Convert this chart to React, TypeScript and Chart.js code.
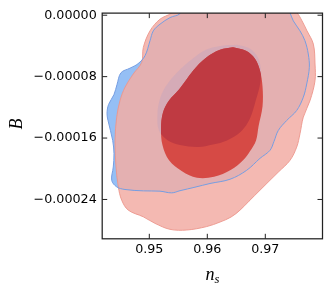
import React, { useEffect, useRef } from 'react';
import { Chart, registerables } from 'chart.js';
Chart.register(...registerables);

const xTicks = [0.95, 0.96, 0.97];
const yTicks = [0, -0.00008, -0.00016, -0.00024];
const xMin = 0.94188;
const xMax = 0.97986;
const yMin = -0.00029123;
const yMax = 0.00000272;

const blueOuterNs = [0.96564, 0.95616, 0.95529, 0.95357, 0.95184, 0.95069, 0.95012, 0.94926, 0.94805, 0.94667, 0.94512, 0.94443, 0.94391, 0.94297, 0.94271, 0.94288, 0.94369, 0.94391, 0.94379, 0.94352, 0.94438, 0.94581, 0.94897, 0.95184, 0.95386, 0.95529, 0.95788, 0.96047, 0.96391, 0.96679, 0.96909, 0.97081, 0.9715, 0.97224, 0.97369, 0.97541, 0.97655, 0.97714, 0.97759, 0.97741, 0.97684, 0.97598, 0.97483, 0.97426, 0.9734, 0.96564];
const blueOuterB = [2.24e-5, 1.6e-5, 0.21e-5, -0.31e-5, -1.17e-5, -2.04e-5, -3.33e-5, -5.28e-5, -6.32e-5, -6.9e-5, -7.49e-5, -9.04e-5, -10.34e-5, -11.64e-5, -12.8e-5, -13.71e-5, -16.31e-5, -18.03e-5, -19.77e-5, -21.5e-5, -22.36e-5, -22.7e-5, -22.88e-5, -22.92e-5, -23.14e-5, -22.86e-5, -22.4e-5, -21.92e-5, -21.37e-5, -20.2e-5, -18.64e-5, -17.6e-5, -16.44e-5, -15.01e-5, -13.71e-5, -12.41e-5, -10.69e-5, -8.95e-5, -6.8e-5, -5.06e-5, -3.33e-5, -2.04e-5, -0.74e-5, 0.3e-5, 1.47e-5, 2.24e-5];

const redOuterNs = [0.96391, 0.95529, 0.95386, 0.95184, 0.95012, 0.94897, 0.94869, 0.94724, 0.94581, 0.94495, 0.94438, 0.94409, 0.94426, 0.94466, 0.94524, 0.94638, 0.94897, 0.95098, 0.95357, 0.95645, 0.9599, 0.96219, 0.96409, 0.96564, 0.96719, 0.96909, 0.97081, 0.97221, 0.97426, 0.97541, 0.97598, 0.97655, 0.97771, 0.97857, 0.97857, 0.97828, 0.97719, 0.97633, 0.97547, 0.9734, 0.96391];
const redOuterB = [2.11e-5, 1.6e-5, 0.3e-5, -0.52e-5, -2.04e-5, -4.2e-5, -6.15e-5, -7.65e-5, -9.39e-5, -11.12e-5, -13.28e-5, -16.31e-5, -19.77e-5, -22.36e-5, -24.09e-5, -25.39e-5, -26.26e-5, -27.11e-5, -27.89e-5, -27.98e-5, -27.53e-5, -26.94e-5, -26.29e-5, -25.39e-5, -24.22e-5, -22.79e-5, -21.5e-5, -20.46e-5, -18.9e-5, -17.18e-5, -15.44e-5, -13.28e-5, -11.12e-5, -8.52e-5, -6.36e-5, -3.76e-5, -2.04e-5, -0.74e-5, 0.3e-5, 1.6e-5, 2.11e-5];

const blueInnerNs = [0.96512, 0.96736, 0.96874, 0.96926, 0.96909, 0.9684, 0.96736, 0.96581, 0.9634, 0.96098, 0.9584, 0.95529, 0.95322, 0.95167, 0.95141, 0.95176, 0.95271, 0.95443, 0.95702, 0.95978, 0.96253, 0.96512];
const blueInnerB = [-3.85e-5, -4.37e-5, -5.54e-5, -7.23e-5, -9.04e-5, -10.99e-5, -13.45e-5, -15.14e-5, -16.31e-5, -16.83e-5, -17.15e-5, -16.89e-5, -16.31e-5, -15.01e-5, -12.93e-5, -11.12e-5, -9.43e-5, -7.74e-5, -5.93e-5, -4.5e-5, -3.98e-5, -3.85e-5];

const redInnerNs = [0.96443, 0.96667, 0.96822, 0.96909, 0.96952, 0.96952, 0.96883, 0.9684, 0.96736, 0.96616, 0.96409, 0.96116, 0.95822, 0.95564, 0.9534, 0.95228, 0.95202, 0.95236, 0.9534, 0.95512, 0.95753, 0.95978, 0.96219, 0.96443];
const redInnerB = [-4.18e-5, -4.63e-5, -5.67e-5, -7.23e-5, -9.3e-5, -11.9e-5, -14.49e-5, -16.31e-5, -17.73e-5, -18.9e-5, -20.13e-5, -21.04e-5, -21.17e-5, -20.33e-5, -18.9e-5, -16.95e-5, -14.75e-5, -12.67e-5, -11.12e-5, -9.69e-5, -7.23e-5, -5.54e-5, -4.5e-5, -4.18e-5];

const pts = (xs: number[], ys: number[]) => xs.map((x, i) => ({ x, y: ys[i] }));

const TENSION = 0.35;

function poly(label: string, xs: number[], ys: number[], order: number, fillColor: string | false, borderColor: string, borderWidth: number) {
  return {
    label,
    data: pts(xs, ys),
    order,
    showLine: true,
    pointRadius: 0,
    pointHoverRadius: 0,
    tension: TENSION,
    fill: fillColor ? 'shape' : false,
    backgroundColor: fillColor || 'transparent',
    borderColor,
    borderWidth,
  };
}

const fmtY = (v: number) => {
  if (Math.abs(v) < 1e-12) return '0.00000';
  return (v < 0 ? '\u2212' : '') + Math.abs(v).toFixed(5);
};

const decor = {
  id: 'decor',
  afterDatasetsDraw(chart: any) {
    const ctx = chart.ctx as CanvasRenderingContext2D;
    const { left, right, top, bottom } = chart.chartArea;
    const redLine = chart.getDatasetMeta(0).dataset;
    const blueLine = chart.getDatasetMeta(1).dataset;
    ctx.save();
    ctx.beginPath();
    ctx.rect(left, top, right - left, bottom - top);
    ctx.clip();
    ctx.beginPath();
    redLine.path(ctx);
    ctx.closePath();
    ctx.clip();
    ctx.beginPath();
    blueLine.path(ctx);
    ctx.closePath();
    ctx.fillStyle = '#bf3a42';
    ctx.fill();
    ctx.restore();

    // frame and inward ticks
    const xs = chart.scales.x;
    const ys = chart.scales.y;
    ctx.save();
    ctx.strokeStyle = '#222';
    ctx.lineWidth = 1;
    const tl = 5;
    for (const t of xTicks) {
      const p = xs.getPixelForValue(t);
      ctx.beginPath();
      ctx.moveTo(p, bottom);
      ctx.lineTo(p, bottom - tl);
      ctx.moveTo(p, top);
      ctx.lineTo(p, top + tl);
      ctx.stroke();
    }
    for (const t of yTicks) {
      const p = ys.getPixelForValue(t);
      ctx.beginPath();
      ctx.moveTo(left, p);
      ctx.lineTo(left + tl, p);
      ctx.moveTo(right, p);
      ctx.lineTo(right - tl, p);
      ctx.stroke();
    }
    ctx.lineWidth = 1.25;
    ctx.strokeRect(left, top, right - left, bottom - top);

    // axis titles
    ctx.fillStyle = '#000';
    ctx.font = 'italic 18px "Liberation Serif"';
    ctx.textAlign = 'center';
    ctx.textBaseline = 'middle';
    ctx.save();
    ctx.translate(17, (top + bottom) / 2 - 2);
    ctx.rotate(-Math.PI / 2);
    ctx.fillText('B', 0, 0);
    ctx.restore();

    const cx = (left + right) / 2;
    ctx.textBaseline = 'alphabetic';
    ctx.textAlign = 'left';
    ctx.font = 'italic 18px "Liberation Serif"';
    const wn = ctx.measureText('n').width;
    ctx.font = 'italic 12.6px "Liberation Serif"';
    const ws = ctx.measureText('s').width;
    const x0 = cx - (wn + ws) / 2;
    ctx.font = 'italic 18px "Liberation Serif"';
    ctx.fillText('n', x0, bottom + 41);
    ctx.font = 'italic 12.6px "Liberation Serif"';
    ctx.fillText('s', x0 + wn, bottom + 44.5);
    ctx.restore();
  },
};

export default function App() {
  const ref = useRef<HTMLCanvasElement>(null);
  useEffect(() => {
    const canvas = ref.current!;
    const chart = new Chart(canvas, {
      type: 'line',
      data: {
        datasets: [
          poly('red inner', redInnerNs, redInnerB, 0, '#d64a45', 'rgba(0,0,0,0)', 0),
          poly('blue inner', blueInnerNs, blueInnerB, 1, 'rgba(168,155,205,0.25)', 'rgba(0,0,0,0)', 0),
          poly('blue outer line', blueOuterNs, blueOuterB, 2, false, 'rgb(118,158,226)', 1),
          poly('red outer', redOuterNs, redOuterB, 3, 'rgba(242,173,164,0.85)', 'rgba(236,150,140,0.9)', 1),
          poly('blue outer', blueOuterNs, blueOuterB, 4, '#95bff5', 'rgba(0,0,0,0)', 0),
        ] as any,
      },
      options: {
        animation: false,
        responsive: false,
        devicePixelRatio: 1,
        layout: { padding: { top: 12.2, right: 9.5, left: 0, bottom: 0 } },
        plugins: { legend: { display: false }, tooltip: { enabled: false } },
        events: [],
        scales: {
          x: {
            type: 'linear',
            min: xMin,
            max: xMax,
            grid: { display: false, drawTicks: false },
            border: { display: false },
            afterBuildTicks: (s: any) => { s.ticks = xTicks.map((v) => ({ value: v })); },
            afterFit: (s: any) => { s.height = 54.2; },
            ticks: {
              padding: 3,
              color: '#000',
              font: { family: 'DejaVu Sans', size: 12.7 },
              callback: (v: any) => Number(v).toFixed(2),
              maxRotation: 0,
            },
          },
          y: {
            type: 'linear',
            min: yMin,
            max: yMax,
            grid: { display: false, drawTicks: false },
            border: { display: false },
            afterBuildTicks: (s: any) => { s.ticks = yTicks.map((v) => ({ value: v })); },
            afterFit: (s: any) => { s.width = 102.2; },
            ticks: {
              padding: 5.5,
              color: '#000',
              font: { family: 'DejaVu Sans', size: 12.7 },
              callback: (v: any) => fmtY(Number(v)),
            },
          },
        },
      } as any,
      plugins: [decor],
    });
    return () => chart.destroy();
  }, []);
  return (
    <div style={{ position: 'fixed', left: 0, top: 0, width: 332, height: 293, background: '#fff' }}>
      <canvas ref={ref} width={332} height={293} style={{ display: 'block', width: 332, height: 293 }} />
    </div>
  );
}
